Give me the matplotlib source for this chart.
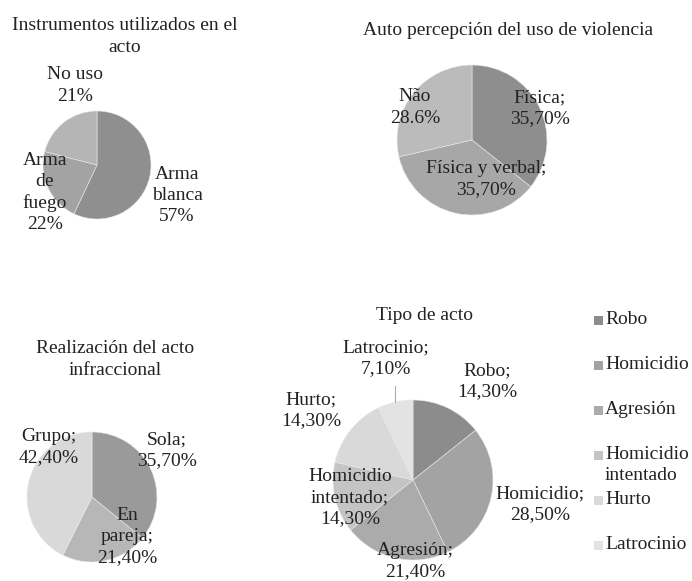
import matplotlib
matplotlib.use("Agg")
import matplotlib.pyplot as plt
from matplotlib.patches import Rectangle
import numpy as np

plt.rcParams['font.family'] = ['Liberation Serif', 'DejaVu Serif']

W, H = 692, 581
FS = 14
LS = 1.32

# ---- data ----
inst_labels = ["Arma blanca", "Arma de fuego", "No uso"]
inst_values = [57, 22, 21]
inst_text = ["Arma\nblanca\n57%", "Arma\nde\nfuego\n22%", "No uso\n21%"]

viol_labels = ["Física", "Física y verbal", "Não"]
viol_values = [35.7, 35.7, 28.6]
viol_text = ["Física;\n35,70%", "Física y verbal;\n35,70%", "Não\n28.6%"]

real_labels = ["Sola", "En pareja", "Grupo"]
real_values = [35.7, 21.4, 42.4]
real_text = ["Sola;\n35,70%", "En\npareja;\n21,40%", "Grupo;\n42,40%"]

tipo_labels = ["Robo", "Homicidio", "Agresión", "Homicidio\nintentado", "Hurto", "Latrocinio"]
tipo_values = [14.3, 28.5, 21.4, 14.3, 14.3, 7.1]
tipo_text = ["Robo;\n14,30%", "Homicidio;\n28,50%", "Agresión;\n21,40%",
             "Homicidio\nintentado;\n14,30%", "Hurto;\n14,30%", "Latrocinio;\n7,10%"]

# ---- styles / layout ----
inst_colors = ["#8f8f8f", "#a3a3a3", "#b5b5b5"]
viol_colors = ["#8e8e8e", "#a7a7a7", "#bbbbbb"]
real_colors = ["#9a9a9a", "#b7b7b7", "#d9d9d9"]
tipo_colors = ["#8c8c8c", "#a3a3a3", "#ababab", "#c4c4c4", "#d9d9d9", "#e3e3e3"]
TXT = '#222222'

fig = plt.figure(figsize=(W / 100, H / 100), dpi=100)


def px(x, y):
    return x / W, 1 - y / H


def pie_axes(cx, cy, r):
    ax = fig.add_axes([(cx - r) / W, 1 - (cy + r) / H, 2 * r / W, 2 * r / H])
    ax.axis('off')
    return ax


def draw_pie(ax, values, colors):
    wedges, _ = ax.pie(values, colors=colors, startangle=90, counterclock=False,
                       radius=1, wedgeprops=dict(linewidth=0.4, edgecolor='#e8e8e8'))
    ax.set_xlim(-1, 1)
    ax.set_ylim(-1, 1)
    ax.set_aspect('equal')
    return wedges


def label(x, y, s, ls=LS):
    fig.text(*px(x, y + 1.5), s, ha='center', va='center', fontsize=FS,
             linespacing=ls, color=TXT)


# Pie 1
ax1 = pie_axes(97, 165, 54)
draw_pie(ax1, inst_values, inst_colors)
label(125, 35, "Instrumentos utilizados en el\nacto")
for (x, y), s in zip([(177, 194), (45, 191), (75, 84)], inst_text):
    label(x, y, s)

# Pie 2
ax2 = pie_axes(472, 140, 75)
draw_pie(ax2, viol_values, viol_colors)
label(508, 29, "Auto percepción del uso de violencia")
for (x, y), s in zip([(540, 107), (486, 178), (415, 106)], viol_text):
    label(x, y, s)

# Pie 3
ax3 = pie_axes(92, 497, 65)
draw_pie(ax3, real_values, real_colors)
label(115, 358, "Realización del acto\ninfraccional")
for (x, y), s in zip([(167, 449), (127, 535), (49, 446)], real_text):
    label(x, y, s)

# Pie 4
ax4 = pie_axes(413, 480, 80)
wedges4 = draw_pie(ax4, tipo_values, tipo_colors)
label(425, 314, "Tipo de acto")
for (x, y), s in zip([(487, 380), (540, 503), (415, 560), (350, 496), (311, 409), (386, 357)], tipo_text):
    label(x, y, s)
# leader line for Latrocinio
w = wedges4[-1]
mid = np.deg2rad((w.theta1 + w.theta2) / 2)
ex, ey = np.cos(mid), np.sin(mid)
ax4.plot([ex, ex], [ey, ey + 0.2], color='#aaaaaa', lw=0.8, clip_on=False)

# Legend (entries evenly spaced, marker on first line of each entry)
leg_y0, leg_dy, leg_x = 320, 45, 594
for i, (name, col) in enumerate(zip(tipo_labels, tipo_colors)):
    y = leg_y0 + leg_dy * i
    x0, y0 = px(leg_x, y + 5)
    fig.add_artist(Rectangle((x0, y0), 9 / W, 9 / H, transform=fig.transFigure,
                             facecolor=col, edgecolor='none'))
    fig.text(*px(leg_x + 11, y - 9), name, ha='left', va='top', fontsize=FS,
             linespacing=1.3, color=TXT)

fig.savefig("out.png", dpi=100)
